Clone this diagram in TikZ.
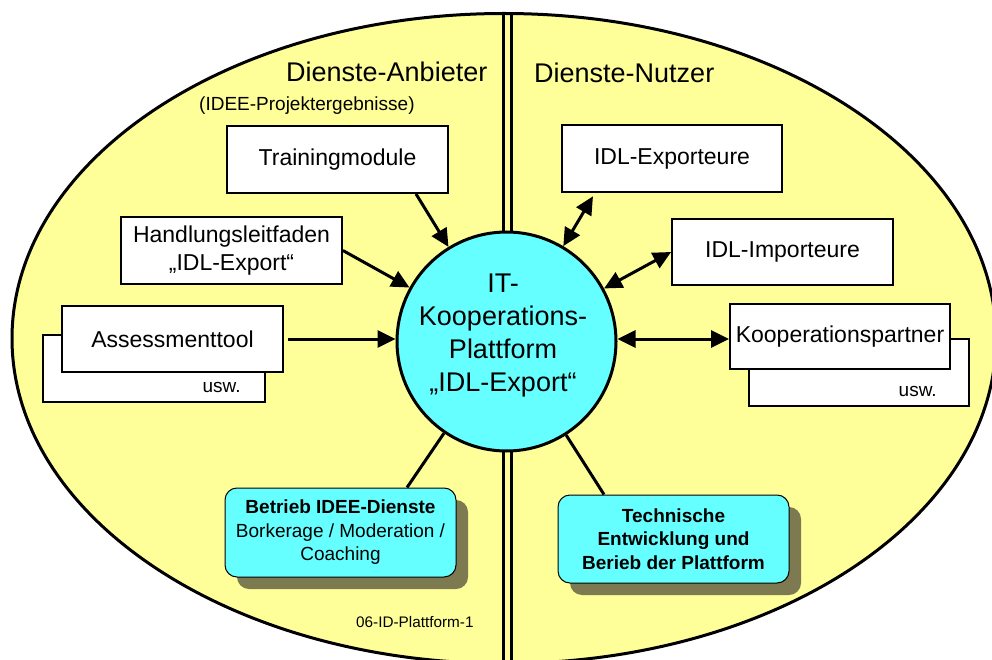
\documentclass[tikz,border=0pt]{standalone}
\usepackage{fontspec}
\setmainfont{Liberation Sans}
\usetikzlibrary{arrows.meta,shadows,calc}
\definecolor{ellyellow}{RGB}{255,255,153}
\definecolor{platcyan}{RGB}{102,255,255}
\definecolor{shadowolive}{RGB}{125,122,82}
\begin{document}
\begin{tikzpicture}[x=1pt,y=-1pt,
  box/.style={draw, line width=1.8pt, fill=white, minimum width=221pt, minimum height=67pt,
    inner sep=0pt, align=center, font=\fontsize{23}{28}\selectfont},
  rbox/.style={draw, line width=1pt, fill=platcyan, rounded corners=12pt, minimum width=231pt,
    minimum height=88pt, inner sep=0pt, align=center, font=\fontsize{19}{23.5}\selectfont,
    drop shadow={shadow xshift=12pt, shadow yshift=-12pt, fill=shadowolive, opacity=1}},
  conn/.style={line width=3pt},
  onearrow/.style={-{Triangle[length=18pt,width=17pt]}},
  twoarrow/.style={{Triangle[length=18pt,width=17pt]}-{Triangle[length=18pt,width=17pt]}},
  usw/.style={anchor=base east, inner sep=0pt, font=\fontsize{19}{23}\selectfont},
  title/.style={anchor=base west, inner sep=0pt, font=\fontsize{27}{32}\selectfont}]
\useasboundingbox (0,0) rectangle (992,660);
\clip (0,0) rectangle (992,660);
\fill[white] (0,0) rectangle (992,660);
% big ellipse
\fill[ellyellow] (504,338.5) ellipse [x radius=492pt, y radius=325pt];
\begin{scope}
  \clip (504,338.5) ellipse [x radius=492pt, y radius=325pt];
  \draw[line width=3pt] (503,0) -- (503,700);
  \draw[line width=3pt] (511.7,0) -- (511.7,700);
\end{scope}
\draw[line width=3pt] (504,338.5) ellipse [x radius=492pt, y radius=325pt];
% titles
\node[title] (t1) at (286,82) {Dienste-Anbieter};
\node[anchor=base west, inner sep=0pt, font=\fontsize{19}{23}\selectfont] (t2) at (199,111) {(IDEE-Projektergebnisse)};
\node[title] (t3) at (534,83) {Dienste-Nutzer};
\node[anchor=base west, inner sep=0pt, font=\fontsize{15.3}{18}\selectfont] (t4) at (356,627) {06-ID-Plattform-1};
% central circle
\node[circle, draw, line width=3pt, fill=platcyan, minimum size=219pt, inner sep=0pt] (c) at (506.5,341.5) {};
\node[align=center, inner sep=0pt, font=\fontsize{27}{33}\selectfont] (ct) at (503,335.7) {IT-\\Kooperations-\\Plattform\\„IDL-Export“};
% left boxes
\node[box] (tm) at (337.5,159.5) {Trainingmodule};
\node[box] (hl) at (231.5,250.5) {Handlungsleitfaden\\„IDL-Export“};
\node[box, minimum width=222pt] (atb) at (154,368.5) {};
\node[usw] (atu) at ([xshift=-25pt,yshift=10pt]atb.south east) {usw.};
\node[box, minimum height=66pt] (at) at (172.5,339) {Assessmenttool};
% right boxes
\node[box, minimum width=220pt] (ex) at (672,158.5) {IDL-Exporteure};
\node[box, minimum height=66pt] (im) at (782.5,252) {IDL-Importeure};
\node[box, minimum width=220pt] (kpb) at (859,372.5) {};
\node[usw] (kpu) at ([xshift=-33pt,yshift=10pt]kpb.south east) {usw.};
\node[box, minimum width=220pt, minimum height=65pt] (kp) at (840,336.5) {Kooperationspartner};
% rounded boxes
\node[rbox, minimum height=89pt] (bd) at (340.5,532.5) {\textbf{Betrieb IDEE-Dienste}\\Borkerage / Moderation /\\Coaching};
\node[rbox] (te) at (673.5,539) {\textbf{Technische}\\\textbf{Entwicklung und}\\\textbf{Berieb der Plattform}};
% connectors
\draw[conn, onearrow] ([xshift=78.5pt]tm.south) -- (c);
\draw[conn, onearrow] (hl.east) -- (c);
\draw[conn, onearrow, shorten <=4pt] (at.east) -- (at.east -| c.west);
\draw[conn, twoarrow, shorten <=4pt] ([xshift=-77pt]ex.south) -- (c);
\draw[conn, twoarrow] (im.west) -- (c);
\draw[conn, twoarrow] ([yshift=-2.5pt]kp.west) -- ([yshift=-2.5pt]kp.west -| c.east);
\draw[conn] ([xshift=66.5pt]bd.north) -- (c);
\draw[conn] ([xshift=-69.5pt]te.north) -- (c);
\end{tikzpicture}
\end{document}
